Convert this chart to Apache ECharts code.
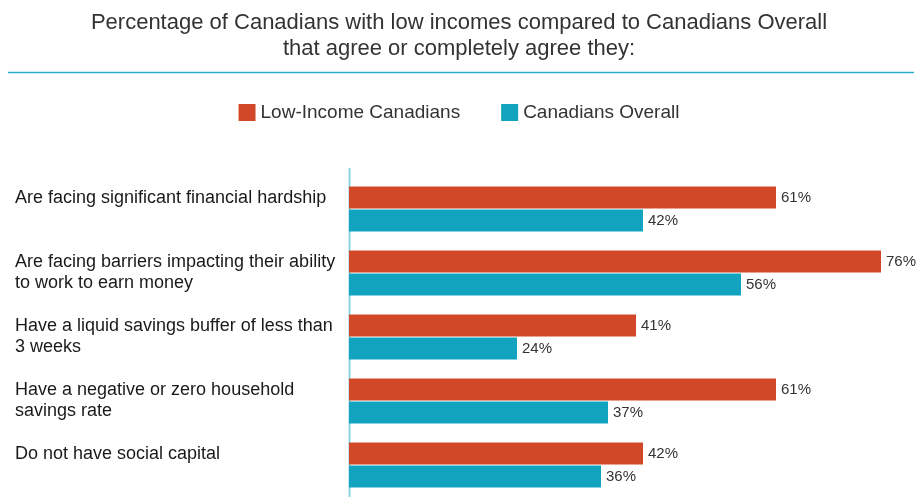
<!DOCTYPE html>
<html>
<head>
<meta charset="utf-8">
<script src="https://cdn.jsdelivr.net/npm/echarts@6/dist/echarts.min.js"></script>
<style>
html,body{margin:0;padding:0;background:#fff;}
#chart{width:918px;height:497px;}
</style>
</head>
<body>
<div id="chart"></div>
<script>
const titleText = "Percentage of Canadians with low incomes compared to Canadians Overall\nthat agree or completely agree they:";
const categories = [
  "Are facing significant financial hardship",
  "Are facing barriers impacting their ability\nto work to earn money",
  "Have a liquid savings buffer of less than\n3 weeks",
  "Have a negative or zero household\nsavings rate",
  "Do not have social capital"
];
const seriesNames = ["Low-Income Canadians", "Canadians Overall"];
const lowIncome = [61, 76, 41, 61, 42];
const overall = [42, 56, 24, 37, 36];

const FONT = "'Liberation Sans', Arial, Helvetica, sans-serif";
const chart = echarts.init(document.getElementById('chart'), null, {renderer: 'canvas'});

const labelCfg = {
  show: true,
  position: 'right',
  distance: 5,
  formatter: p => p.value + '%',
  fontFamily: FONT,
  fontSize: 15,
  color: '#333333'
};

chart.setOption({
  animation: false,
  backgroundColor: '#ffffff',
  textStyle: {fontFamily: FONT},
  title: {
    text: titleText,
    left: 'center',
    top: 5,
    textStyle: {
      fontFamily: FONT,
      fontSize: 22,
      fontWeight: 'normal',
      color: '#333333',
      lineHeight: 26
    }
  },
  legend: {
    data: seriesNames,
    top: 98,
    left: 'center',
    icon: 'rect',
    itemWidth: 17,
    itemHeight: 17,
    itemGap: 41,
    textStyle: {fontFamily: FONT, fontSize: 19, color: '#333333'}
  },
  graphic: [
    {
      type: 'line',
      shape: {x1: 8, y1: 72.5, x2: 914, y2: 72.5},
      style: {stroke: '#2aaec8', lineWidth: 1.5}
    },
    {
      type: 'line',
      shape: {x1: 349.5, y1: 168, x2: 349.5, y2: 497},
      style: {stroke: '#8fd4e4', lineWidth: 2}
    }
  ],
  grid: {
    left: 349,
    top: 177,
    width: 567,
    height: 321,
    containLabel: false
  },
  xAxis: {
    type: 'value',
    min: 0,
    max: 81,
    show: false,
    splitLine: {show: false}
  },
  yAxis: {
    type: 'category',
    data: categories,
    inverse: true,
    axisLine: {show: false},
    axisTick: {show: false},
    axisLabel: {
      margin: 334,
      align: 'left',
      verticalAlign: 'middle',
      lineHeight: 21,
      padding: [0, 0, 7, 0],
      fontFamily: FONT,
      fontSize: 18,
      color: '#1a1a1a',
      formatter: v => v.indexOf('\n') >= 0 ? v : v + '\n '
    }
  },
  series: [
    {
      name: seriesNames[0],
      type: 'bar',
      data: lowIncome,
      barWidth: 22,
      barGap: '5%',
      itemStyle: {color: '#d14828'},
      label: labelCfg
    },
    {
      name: seriesNames[1],
      type: 'bar',
      data: overall,
      barWidth: 22,
      barGap: '5%',
      itemStyle: {color: '#12a3bf'},
      label: labelCfg
    }
  ]
});
</script>
</body>
</html>
